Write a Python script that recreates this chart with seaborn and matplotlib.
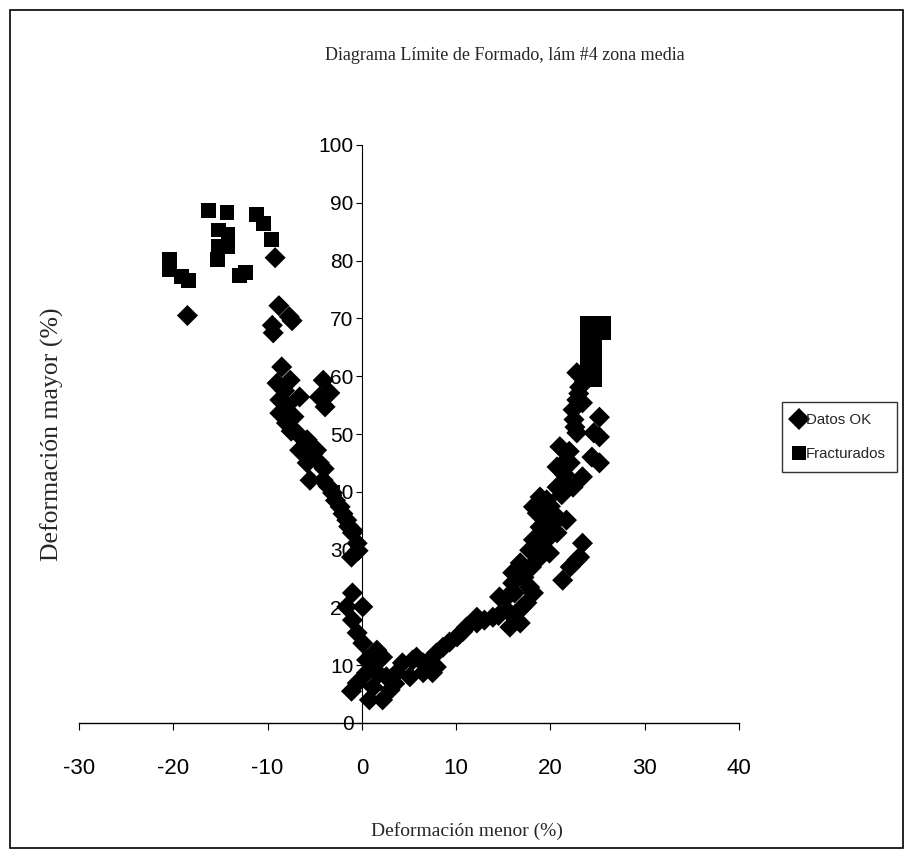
import pandas as pd
import matplotlib.pyplot as plt
import seaborn as sns
from matplotlib.patches import Rectangle

# Datos OK (diamantes)
ok_x = [-18.5, -9.2, -8.8, -7.7, -7.4, -9.5, -9.4,
        -8.5, -9.0, -7.6, -6.6, -8.7, -8.7, -8.0, -6.9, -5.8, -6.6, -4.8, -5.8, -4.5,
        -5.5, -4.1, -3.1, -2.3, -1.6, -1.0, -0.5,
        -7.2, -7.5, -6.0, -5.2, -4.0, -3.6, -2.8, -2.0, -1.4, -8.2, -7.9,
        -4.1, -4.5, -3.4, -3.9,
        -1.0, -1.1, -0.4,
        -1.0, -1.6, 0.1, -1.0, -0.5, 0.1, 1.6, 2.2, 0.5,
        -0.5, 0.5, 1.2, 0.8, 2.2, 3.0, 3.7, 4.3, 2.6, -1.1, 1.0, 1.8, 3.5,
        5.4, 6.5, 7.2, 7.9, 6.5, 5.1, 5.8, 7.5, 8.6, 7.9, 10.1, 11.1, 12.2, 12.2,
        9.3, 10.7, 13.0, 14.5,
        13.9, 15.4, 16.4, 16.8, 15.7, 14.6, 17.0, 16.2, 17.2, 18.0,
        16.0, 16.8, 18.2, 19.2, 18.2, 19.6, 20.7, 21.7, 22.4, 17.5, 18.2, 15.4,
        16.0, 17.8, 16.8, 18.6, 17.8, 19.9, 19.6, 20.7, 18.9, 21.7, 18.6, 20.3,
        19.0, 19.5, 20.0, 21.2, 21.5, 22.0, 22.5, 23.0, 23.6,
        18.9, 20.7, 23.4, 20.7, 21.7, 21.0, 22.1,
        23.4, 23.1, 22.1, 21.3, 22.8,
        25.2, 25.2, 24.6, 25.2, 24.4,
        22.8, 23.1, 22.8, 23.4, 22.4, 22.6, 22.8]
ok_y = [70.5, 80.5, 72.2, 70.3, 69.6, 68.8, 67.5,
        61.6, 58.8, 59.3, 56.4, 55.9, 53.6, 51.9, 50.2, 49.0, 47.2, 47.2, 45.0, 45.0,
        42.0, 42.0, 39.8, 37.4, 35.1, 32.9, 31.1,
        53.0, 50.5, 48.0, 46.5, 44.0, 41.0, 38.5, 36.2, 34.0, 57.5, 55.0,
        59.3, 56.4, 57.1, 54.7,
        33.4, 28.7, 29.8,
        22.5, 20.1, 20.1, 17.8, 15.6, 13.8, 12.6, 11.4, 10.9,
        6.9, 8.7, 6.2, 4.0, 4.0, 5.7, 8.7, 10.4, 8.0, 5.5, 10.0, 8.5, 6.8,
        10.9, 10.4, 10.9, 9.7, 8.7, 8.0, 11.4, 8.7, 13.1, 12.1, 14.9, 16.6, 18.3, 17.3,
        14.0, 15.8, 17.8, 18.6,
        18.3, 19.5, 19.0, 17.3, 16.6, 21.8, 20.0, 22.5, 25.2, 27.0,
        26.0, 27.7, 31.7, 32.9, 37.4, 38.6, 35.1, 41.5, 40.8, 20.8, 22.5, 21.8,
        24.2, 23.5, 26.5, 28.2, 29.9, 29.4, 31.7, 32.9, 33.9, 35.1, 36.3, 36.3,
        30.5, 34.5, 37.5, 39.5, 43.0, 47.0, 52.5, 57.0, 59.0,
        39.1, 40.8, 42.6, 44.3, 45.5, 47.8, 45.0,
        31.1, 28.7, 27.0, 24.7, 28.2,
        52.9, 49.5, 50.2, 45.0, 46.0,
        60.6, 58.1, 55.9, 55.4, 54.2, 51.2, 50.2]

# Fracturados (cuadrados)
fr_x = [-20.4, -20.4, -19.1, -18.4,
        -16.3, -15.2, -15.2, -15.3, -14.3, -14.2, -14.2, -13.0, -12.3,
        -11.2, -10.4, -9.6,
        23.9, 25.6, 23.9, 25.6, 24.7, 23.9, 24.7, 23.9, 24.7,
        24.7, 25.6, 24.7, 23.9, 24.7, 23.9, 24.7, 24.7]
fr_y = [80.2, 78.4, 77.3, 76.6,
        88.6, 85.3, 82.4, 80.2, 88.3, 84.6, 82.4, 77.4, 78.0,
        87.9, 86.4, 83.6,
        69.2, 69.2, 67.0, 67.5, 66.0, 63.0, 63.0, 60.0, 60.0,
        69.2, 68.0, 67.5, 65.5, 64.8, 61.5, 61.5, 59.5]

ok_label = 'Datos OK'
fr_label = 'Fracturados'

df = pd.DataFrame({
    'x': ok_x + fr_x,
    'y': ok_y + fr_y,
    'serie': [ok_label] * len(ok_x) + [fr_label] * len(fr_x),
})

sns.set_style('white')
plt.rcParams['font.family'] = ['Liberation Serif', 'DejaVu Serif']
plt.rcParams['axes.unicode_minus'] = False
sans = ['Liberation Sans Narrow', 'Liberation Sans', 'DejaVu Sans']
serif = ['Liberation Serif', 'DejaVu Serif']

fig = plt.figure(figsize=(9.07, 8.68), dpi=100)
ax = fig.add_axes([79 / 907, 1 - 723 / 868, 660 / 907, 578 / 868])

sns.scatterplot(data=df, x='x', y='y', hue='serie', style='serie',
                markers={ok_label: 'D', fr_label: 's'},
                palette={ok_label: 'black', fr_label: 'black'},
                s=115, linewidth=0, ax=ax, legend=True)

ax.set_xlim(-30, 40)
ax.set_ylim(0, 100)
ax.set_xticks(range(-30, 41, 10))
ax.set_yticks(range(0, 101, 10))

for side in ['top', 'right']:
    ax.spines[side].set_visible(False)
ax.spines['left'].set_position(('data', 0))
ax.spines['left'].set_linewidth(0.8)
ax.spines['bottom'].set_linewidth(1.0)
ax.spines['left'].set_color('black')
ax.spines['bottom'].set_color('black')

ax.tick_params(axis='x', direction='out', length=5, width=0.8, pad=20,
               labelsize=16, colors='black')
ax.tick_params(axis='y', direction='out', length=4, width=0.8, pad=2,
               labelsize=15, colors='black')
ax.xaxis.set_ticks_position('bottom')
ax.yaxis.set_ticks_position('left')
for lab in ax.get_xticklabels() + ax.get_yticklabels():
    lab.set_family(sans)

ax.set_xlabel('Deformación menor (%)', fontsize=14, family=serif)
ax.set_ylabel('Deformación mayor (%)', fontsize=18.5, family=serif)
ax.xaxis.set_label_coords((467 - 79) / 660, -(822 - 723) / 578)
ax.yaxis.set_label_coords((64 - 79) / 660, 0.5)

fig.text(505 / 907, 1 - 55 / 868, 'Diagrama Límite de Formado, lám #4 zona media',
         ha='center', va='center', fontsize=13, family=serif)

handles, labels = ax.get_legend_handles_labels()
leg = ax.legend(handles, labels, loc='center left',
                bbox_to_anchor=(782 / 907, 1 - 437 / 868),
                bbox_transform=fig.transFigure, frameon=True, fancybox=False,
                edgecolor='black', prop={'family': sans, 'size': 10.8},
                handletextpad=0.15, handlelength=0.7, borderpad=0.75,
                labelspacing=1.35, borderaxespad=0)
leg.get_frame().set_linewidth(1.0)

# marco del grafico
fig.patches.append(Rectangle((0.011, 1 - 848 / 868), 0.985, (848 - 10) / 868,
                             transform=fig.transFigure, fill=False,
                             edgecolor='black', linewidth=1.2))

fig.savefig('out.png', dpi=100, facecolor='white')
